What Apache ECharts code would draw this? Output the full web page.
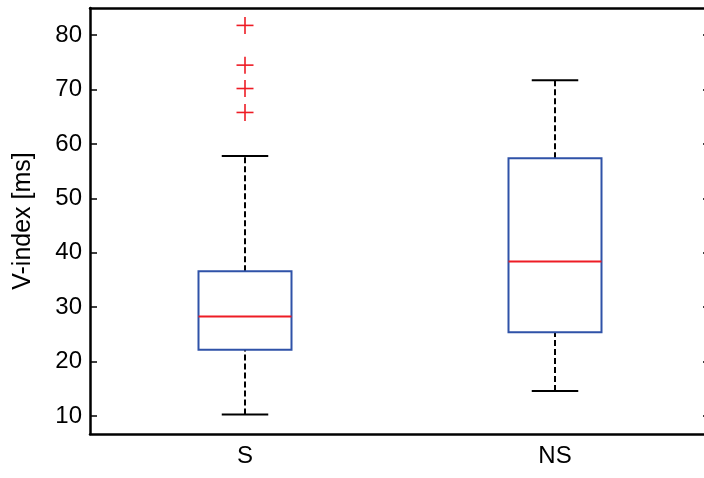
<!DOCTYPE html>
<html>
<head>
<meta charset="utf-8">
<script src="https://cdn.jsdelivr.net/npm/echarts@6/dist/echarts.min.js"></script>
<style>
html,body{margin:0;padding:0;background:#fff;}
#chart{width:704px;height:478px;}
</style>
</head>
<body>
<div id="chart"></div>
<script>
// ---- data ----
const categories = ['S', 'NS'];
const lowWhisker = [10.3, 14.6];
const q1 = [22.2, 25.4];
const median = [28.3, 38.4];
const q3 = [36.6, 57.4];
const highWhisker = [57.8, 71.7];
const outlierCategory = ['S', 'S', 'S', 'S'];
const outlierValues = [65.8, 70.2, 74.5, 81.8];
const yTicks = [10, 20, 30, 40, 50, 60, 70, 80];
const yLabel = 'V-index [ms]';

// ---- build ----
const boxData = categories.map((c, i) => [i, lowWhisker[i], q1[i], median[i], q3[i], highWhisker[i]]);
const outData = outlierValues.map((v, i) => [categories.indexOf(outlierCategory[i]), v]);

const FONT = 'Liberation Sans, Arial, Helvetica, sans-serif';
const BLUE = '#2f52a8';
const RED = '#ee1c25';

const chart = echarts.init(document.getElementById('chart'), null, {renderer: 'canvas'});

function renderBox(params, api) {
  const x = api.value(0);
  const lo = api.coord([x, api.value(1)]);
  const b1 = api.coord([x, api.value(2)]);
  const md = api.coord([x, api.value(3)]);
  const b3 = api.coord([x, api.value(4)]);
  const hi = api.coord([x, api.value(5)]);
  const band = api.size([1, 0])[0];
  const bw = band * 0.3;
  const cw = bw * 0.5;
  const cx = lo[0];
  const dash = {stroke: '#000', lineWidth: 2, lineDash: [6, 3]};
  const solid = {stroke: '#000', lineWidth: 2};
  return {
    type: 'group',
    children: [
      {type: 'line', shape: {x1: cx, y1: b3[1], x2: cx, y2: hi[1]}, style: dash},
      {type: 'line', shape: {x1: cx, y1: lo[1], x2: cx, y2: b1[1]}, style: dash},
      {type: 'line', shape: {x1: cx - cw / 2, y1: hi[1], x2: cx + cw / 2, y2: hi[1]}, style: solid},
      {type: 'line', shape: {x1: cx - cw / 2, y1: lo[1], x2: cx + cw / 2, y2: lo[1]}, style: solid},
      {type: 'rect', shape: {x: cx - bw / 2, y: b3[1], width: bw, height: b1[1] - b3[1]},
        style: {fill: '#fff', stroke: BLUE, lineWidth: 2}},
      {type: 'line', shape: {x1: cx - bw / 2, y1: md[1], x2: cx + bw / 2, y2: md[1]},
        style: {stroke: RED, lineWidth: 2}}
    ]
  };
}

function renderOutlier(params, api) {
  const p = api.coord([api.value(0), api.value(1)]);
  const h = 8.5;
  const st = {stroke: RED, lineWidth: 1.6};
  return {
    type: 'group',
    children: [
      {type: 'line', shape: {x1: p[0] - h, y1: p[1], x2: p[0] + h, y2: p[1]}, style: st},
      {type: 'line', shape: {x1: p[0], y1: p[1] - h, x2: p[0], y2: p[1] + h}, style: st}
    ]
  };
}

const yCommon = {
  type: 'value', min: 6.7, max: 85,
  splitLine: {show: false},
  axisLine: {show: true, onZero: false, lineStyle: {color: '#000', width: 2.5}},
  axisTick: {show: true, inside: true, length: 7, customValues: yTicks, lineStyle: {color: '#000', width: 1.5}}
};

chart.setOption({
  animation: false,
  backgroundColor: '#fff',
  grid: {left: 90, top: 8, width: 620, height: 426, containLabel: false, outerBoundsMode: 'none'},
  xAxis: [
    {type: 'category', data: categories, position: 'bottom',
      axisLine: {show: true, onZero: false, lineStyle: {color: '#000', width: 2.5}},
      axisTick: {show: false},
      axisLabel: {color: '#000', fontFamily: FONT, fontSize: 24, margin: 10},
      splitLine: {show: false}},
    {type: 'category', data: categories, position: 'top',
      axisLine: {show: true, onZero: false, lineStyle: {color: '#000', width: 2.5}},
      axisTick: {show: false}, axisLabel: {show: false}, splitLine: {show: false}}
  ],
  yAxis: [
    Object.assign({}, yCommon, {
      position: 'left',
      name: yLabel, nameLocation: 'middle', nameGap: 54, nameRotate: 90,
      nameTextStyle: {color: '#000', fontFamily: FONT, fontSize: 25},
      axisLabel: {show: true, customValues: yTicks, color: '#000', fontFamily: FONT, fontSize: 24, margin: 8}
    }),
    Object.assign({}, yCommon, {
      position: 'right',
      axisLabel: {show: false}
    })
  ],
  series: [
    {type: 'custom', name: 'box', renderItem: renderBox, data: boxData,
      encode: {x: 0, y: [1, 2, 3, 4, 5]}, xAxisIndex: 0, yAxisIndex: 0, z: 2},
    {type: 'custom', name: 'outliers', renderItem: renderOutlier, data: outData,
      encode: {x: 0, y: 1}, xAxisIndex: 0, yAxisIndex: 0, z: 3}
  ]
});
</script>
</body>
</html>
